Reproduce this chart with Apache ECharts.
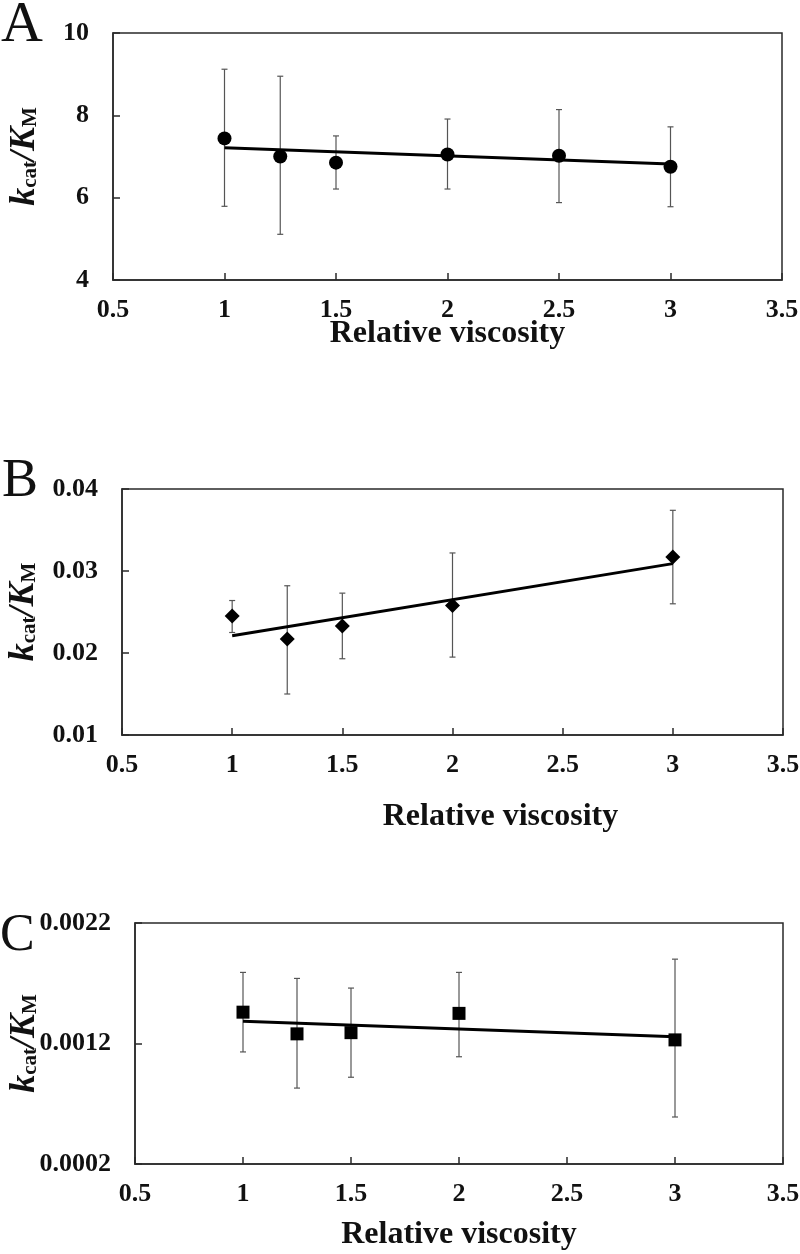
<!DOCTYPE html>
<html>
<head>
<meta charset="utf-8">
<script src="https://cdn.jsdelivr.net/npm/echarts@6/dist/echarts.min.js"></script>
<style>
html,body{margin:0;padding:0;background:#fff;}
#chart{width:800px;height:1254px;}
</style>
</head>
<body>
<div id="chart"></div>
<script>
// ---- data ----
const xTicks = [0.5, 1, 1.5, 2, 2.5, 3, 3.5];
const panelLetters = ['A', 'B', 'C'];
const xTitle = 'Relative viscosity';

const viscA = [1, 1.25, 1.5, 2, 2.5, 3];
const meanA = [7.44, 7.00, 6.85, 7.05, 7.02, 6.75];
const lowA  = [5.79, 5.11, 6.21, 6.21, 5.88, 5.78];
const highA = [9.12, 8.95, 7.50, 7.91, 8.14, 7.72];
const fitXA = [1, 3];
const fitYA = [7.21, 6.82];
const yTicksA = [4, 6, 8, 10];

const viscB = [1, 1.25, 1.5, 2, 3];
const meanB = [0.0245, 0.0217, 0.0233, 0.0258, 0.0317];
const lowB  = [0.0225, 0.0150, 0.0193, 0.0195, 0.0260];
const highB = [0.0264, 0.0282, 0.0273, 0.0322, 0.0374];
const fitXB = [1, 3];
const fitYB = [0.0221, 0.0309];
const yTicksB = [0.01, 0.02, 0.03, 0.04];

const viscC = [1, 1.25, 1.5, 2, 3];
const meanC = [0.00146, 0.00128, 0.00129, 0.00145, 0.00123];
const lowC  = [0.00113, 0.00083, 0.00092, 0.00109, 0.00059];
const highC = [0.00179, 0.00174, 0.00166, 0.00179, 0.00190];
const fitXC = [1, 3];
const fitYC = [0.001385, 0.001255];
const yTicksC = [0.0002, 0.0012, 0.0022];

// ---- build ----
const FONT = "'Liberation Serif', 'Times New Roman', serif";
const panels = [
  {visc: viscA, mean: meanA, low: lowA, high: highA, fx: fitXA, fy: fitYA, yt: yTicksA, sym: 'circle', size: 14,
   grid: {left: 113, top: 33, right: 18, height: 247}, yGap: 72, xGap: 38, xPad: 0, letter: {left: 1, top: -3, size: 58}},
  {visc: viscB, mean: meanB, low: lowB, high: highB, fx: fitXB, fy: fitYB, yt: yTicksB, sym: 'diamond', size: 15,
   grid: {left: 122, top: 489, right: 17, height: 246}, yGap: 82, xGap: 66, xPad: 96, letter: {left: 2, top: 455, size: 54}},
  {visc: viscC, mean: meanC, low: lowC, high: highC, fx: fitXC, fy: fitYC, yt: yTicksC, sym: 'rect', size: 13,
   grid: {left: 135, top: 923, right: 17, height: 241}, yGap: 94, xGap: 55, xPad: 0, letter: {left: 0, top: 910, size: 52}}
];

function fmt(v) { return String(parseFloat(v.toFixed(6))); }

const grids = [], xAxes = [], yAxes = [], series = [], titles = [];
panels.forEach((p, i) => {
  grids.push(Object.assign({show: true, borderColor: '#2a2a2a', borderWidth: 1.5, containLabel: false, outerBoundsMode: 'none'}, p.grid));
  xAxes.push({
    type: 'value', gridIndex: i, min: xTicks[0], max: xTicks[xTicks.length - 1], interval: xTicks[1] - xTicks[0],
    name: xTitle, nameLocation: 'middle', nameGap: p.xGap, nameMoveOverlap: false,
    nameTextStyle: {fontFamily: FONT, fontWeight: 'bold', fontSize: 32, color: '#111', padding: [0, 0, 0, p.xPad]},
    axisLine: {show: true, lineStyle: {color: '#2a2a2a', width: 1.5}},
    axisTick: {show: true, inside: true, length: 7, lineStyle: {color: '#2a2a2a', width: 1.5}},
    axisLabel: {fontFamily: FONT, fontWeight: 'bold', fontSize: 26, color: '#111', margin: 17, formatter: fmt},
    splitLine: {show: false}
  });
  yAxes.push({
    type: 'value', gridIndex: i, min: p.yt[0], max: p.yt[p.yt.length - 1], interval: p.yt[1] - p.yt[0],
    name: '{k|k}{s|cat}{k|/K}{s|M}', nameLocation: 'middle', nameGap: p.yGap, nameMoveOverlap: false,
    nameTextStyle: {
      fontFamily: FONT, color: '#111',
      rich: {
        k: {fontFamily: FONT, fontStyle: 'italic', fontWeight: 'bold', fontSize: 36, lineHeight: 32, color: '#111'},
        s: {fontFamily: FONT, fontWeight: 'bold', fontSize: 21, lineHeight: 14, verticalAlign: 'bottom', color: '#111'}
      }
    },
    axisLine: {show: true, lineStyle: {color: '#2a2a2a', width: 1.5}},
    axisTick: {show: true, inside: true, length: 7, lineStyle: {color: '#2a2a2a', width: 1.5}},
    axisLabel: {fontFamily: FONT, fontWeight: 'bold', fontSize: 26, color: '#111', margin: 24, formatter: fmt},
    splitLine: {show: false}
  });
  series.push({
    type: 'custom', xAxisIndex: i, yAxisIndex: i, z: 2,
    data: p.visc.map((x, j) => [x, p.low[j], p.high[j]]),
    encode: {x: 0, y: [1, 2]},
    renderItem: function (params, api) {
      const top = api.coord([api.value(0), api.value(2)]);
      const bot = api.coord([api.value(0), api.value(1)]);
      const w = 3;
      const st = {stroke: '#555', lineWidth: 1.2};
      return {type: 'group', children: [
        {type: 'line', shape: {x1: top[0], y1: top[1], x2: bot[0], y2: bot[1]}, style: st},
        {type: 'line', shape: {x1: top[0] - w, y1: top[1], x2: top[0] + w, y2: top[1]}, style: st},
        {type: 'line', shape: {x1: bot[0] - w, y1: bot[1], x2: bot[0] + w, y2: bot[1]}, style: st}
      ]};
    },
    silent: true
  });
  series.push({
    type: 'line', xAxisIndex: i, yAxisIndex: i, z: 3,
    data: p.fx.map((x, j) => [x, p.fy[j]]),
    showSymbol: false, symbol: 'none',
    lineStyle: {color: '#000', width: 3}, silent: true
  });
  series.push({
    type: 'scatter', xAxisIndex: i, yAxisIndex: i, z: 4,
    data: p.visc.map((x, j) => [x, p.mean[j]]),
    symbol: p.sym, symbolSize: p.size,
    itemStyle: {color: '#000', opacity: 1}, silent: true
  });
  titles.push({
    text: panelLetters[i], left: p.letter.left, top: p.letter.top, padding: 0,
    textStyle: {fontFamily: FONT, fontWeight: 'normal', fontSize: p.letter.size, color: '#111'}
  });
});

const chart = echarts.init(document.getElementById('chart'), null, {renderer: 'canvas'});
chart.setOption({
  backgroundColor: '#fff',
  animation: false,
  title: titles,
  grid: grids,
  xAxis: xAxes,
  yAxis: yAxes,
  series: series
});
</script>
</body>
</html>
